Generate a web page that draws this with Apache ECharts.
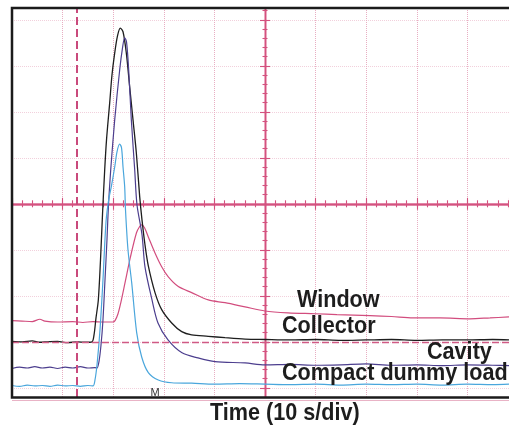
<!DOCTYPE html>
<html><head><meta charset="utf-8">
<script src="https://cdn.jsdelivr.net/npm/echarts@6/dist/echarts.min.js"></script>
<style>html,body{margin:0;padding:0;background:#fff}#c{width:509px;height:428px}</style>
</head><body><div id="c"></div>
<script>
// time in seconds (10 s/div, 0 = screen centre), amplitude in divisions (0 = screen centre)
const windowTrace = [[-50,-2.54],[-48,-2.55],[-46,-2.56],[-44.5,-2.51],[-43.5,-2.55],[-41,-2.57],[-38,-2.56],[-36,-2.58],[-34,-2.56],[-32,-2.57],[-30.04,-2.57],[-29.64,-2.54],[-29.05,-2.39],[-28.46,-2.13],[-27.67,-1.72],[-26.58,-1.15],[-25.40,-0.63],[-24.80,-0.50],[-24.41,-0.46],[-23.81,-0.52],[-23.06,-0.72],[-21.74,-1.07],[-20.42,-1.37],[-19.11,-1.59],[-17.13,-1.80],[-14.49,-1.93],[-11.21,-2.09],[-7.91,-2.15],[-3.95,-2.24],[0,-2.33],[4.55,-2.37],[9.88,-2.39],[14.23,-2.41],[20.75,-2.43],[25,-2.45],[29.25,-2.48],[34.58,-2.48],[40.51,-2.50],[44.47,-2.48],[48.22,-2.46]];
const collectorTrace = [[-50,-2.99],[-48,-3.0],[-46,-2.98],[-44.5,-3.01],[-43,-3.0],[-41,-2.99],[-39,-3.02],[-37,-3.0],[-35.5,-3.01],[-34.19,-3.0],[-33.79,-2.85],[-33.40,-2.48],[-32.94,-2.09],[-32.51,-1.22],[-32.11,-0.22],[-31.68,0.74],[-31.32,1.39],[-30.69,2.20],[-30.24,2.80],[-29.70,3.28],[-29.15,3.65],[-28.60,3.82],[-28.06,3.74],[-27.41,3.28],[-26.74,2.54],[-26.09,1.83],[-25.43,1.11],[-24.76,0.15],[-24.31,-0.35],[-23.72,-0.89],[-23.06,-1.35],[-21.74,-1.93],[-20.42,-2.30],[-18.44,-2.59],[-16.46,-2.78],[-14.49,-2.85],[-11.21,-2.88],[-7.91,-2.91],[-3.95,-2.94],[0,-2.95],[5,-2.96],[10,-2.95],[15,-2.97],[20,-2.96],[25,-2.95],[30,-2.97],[35,-2.96],[40,-2.96],[45,-2.95],[48.22,-2.96]];
const cavityTrace = [[-50,-3.58],[-48.5,-3.55],[-47,-3.57],[-45.5,-3.54],[-44,-3.57],[-42.5,-3.55],[-41,-3.58],[-39.5,-3.55],[-38,-3.57],[-36.5,-3.54],[-35,-3.57],[-33.6,-3.56],[-33.20,-3.57],[-32.81,-3.43],[-32.41,-3.07],[-32.02,-2.52],[-31.62,-1.65],[-31.23,-0.78],[-30.93,-0.02],[-30.49,0.74],[-29.70,1.83],[-28.72,2.91],[-28.16,3.39],[-27.73,3.61],[-27.37,3.52],[-26.94,2.91],[-26.42,1.83],[-25.75,0.74],[-25.30,-0.02],[-24.31,-0.67],[-23.72,-1.37],[-22.33,-2.09],[-21.15,-2.59],[-19.17,-2.96],[-16.40,-3.24],[-13.24,-3.35],[-9.88,-3.43],[-3.95,-3.46],[0,-3.50],[5,-3.49],[10,-3.51],[15,-3.50],[20,-3.48],[25,-3.51],[30,-3.50],[35,-3.52],[40,-3.50],[45,-3.51],[48.22,-3.52]];
const dummyLoadTrace = [[-50,-3.95],[-48.5,-3.97],[-47,-3.94],[-45.5,-3.96],[-44,-3.95],[-42.5,-3.97],[-41,-3.94],[-39.5,-3.96],[-38,-3.95],[-36.5,-3.97],[-35,-3.95],[-33.99,-3.96],[-33.60,-3.83],[-33.20,-3.50],[-32.61,-2.74],[-32.02,-1.65],[-31.42,-0.39],[-30.89,0.09],[-30.38,0.37],[-29.70,0.80],[-29.25,1.13],[-28.72,1.30],[-28.36,1.22],[-28.06,0.80],[-27.73,0.37],[-27.57,-0.13],[-27.08,-1.0],[-26.34,-1.72],[-25.36,-2.80],[-24.37,-3.33],[-23.06,-3.67],[-21.09,-3.83],[-18.44,-3.89],[-14.49,-3.90],[-10,-3.92],[-5,-3.91],[0,-3.92],[5,-3.93],[10,-3.92],[15,-3.94],[20,-3.92],[25,-3.93],[30,-3.92],[35,-3.94],[40,-3.92],[45,-3.93],[48.22,-3.92]];
const seriesNames = ['Window', 'Collector', 'Cavity', 'Compact dummy load'];
const xAxisTitle = 'Time (10 s/div)';
const triggerTime = -37.2;
const groundLevel = -3;
const markerTime = -21.7;
const markerText = 'M';

const PINK = '#d4527f';
const GRIDPINK_V = '#e8aec2';
const GRIDPINK_H = '#f2d0dc';
const FONT = 'bold 24px "Liberation Sans", Arial, sans-serif';
const X_MIN = -50, X_MAX = 48.22, Y_MIN = -4.2, Y_MAX = 4.2565;

function xAx(inside, major) {
  const a = {type:'value', min:X_MIN, max:X_MAX, position:'bottom',
    axisLine:{show:true, onZero:true, onZeroAxisIndex:0, lineStyle:{color:PINK, width:1.3}},
    axisTick:{show:true, inside:inside, length: major ? 6 : 3.5, lineStyle:{color:PINK, width:1.1}},
    axisLabel:{show:false},
    splitLine:{show: major && !inside, showMinLine:false, showMaxLine:false, lineStyle:{color:GRIDPINK_V, type:'dotted', width:1}}};
  a.interval = major ? 10 : 2;
  return a;
}
function yAx(inside, major) {
  const a = {type:'value', min:Y_MIN, max:Y_MAX, position:'left',
    axisLine:{show:true, onZero:true, onZeroAxisIndex:0, lineStyle:{color:PINK, width:1.3}},
    axisTick:{show:true, inside:inside, length: major ? 5 : 2.5, lineStyle:{color:PINK, width:1.1}},
    axisLabel:{show:false},
    splitLine:{show: major && !inside, showMinLine:false, showMaxLine:false, lineStyle:{color:GRIDPINK_H, type:'dotted', width:1}}};
  if (major) a.splitNumber = 8; else a.interval = 0.2;
  return a;
}
function line(name, data, color, width) {
  return {name:name, type:'line', data:data, showSymbol:false, symbol:'none', smooth:0.3,
    lineStyle:{color:color, width:width}, itemStyle:{color:color}, xAxisIndex:0, yAxisIndex:0, z:3};
}
const labelPos = [[297,300],[282,326],[427,352],[282,373]];
const graphics = seriesNames.map((t,i) => ({type:'text', x:labelPos[i][0], y:labelPos[i][1], scaleX:0.9, z:10,
  style:{text:t, font:FONT, fill:'#1d1d1d', textAlign:'left', textVerticalAlign:'middle', align:'left', verticalAlign:'middle'}}));
graphics.push({type:'text', x:210, y:413, scaleX:0.9, z:10,
  style:{text:xAxisTitle, font:FONT, fill:'#1d1d1d', textAlign:'left', textVerticalAlign:'middle', align:'left', verticalAlign:'middle'}});
// oscilloscope screen frame (open on the right where the photo is cut)
graphics.push({type:'polyline', z:9, shape:{points:[[509,8],[12,8],[12,397.5],[509,397.5]]},
  style:{stroke:'#1b1b1b', lineWidth:2.5, fill:null}});
graphics.push({type:'line', z:8, shape:{x1:12, y1:400.5, x2:509, y2:400.5},
  style:{stroke:'#e9b3c6', lineWidth:1}});

const s0 = line(seriesNames[0], windowTrace, '#d24d7e', 1.2);
s0.markLine = {silent:true, symbol:['none','none'], label:{show:false}, animation:false,
  data:[{xAxis:triggerTime, lineStyle:{color:'#c94a7c', width:2, type:[8,4]}},
        {yAxis:groundLevel, lineStyle:{color:'#d05a85', width:1.3, type:[7,3]}}]};
const s3 = line(seriesNames[3], dummyLoadTrace, '#4aa6dc', 1.2);
s3.markPoint = {silent:true, symbol:'rect', symbolSize:0.01, animation:false,
  data:[{coord:[markerTime,-4.12], value:markerText}],
  label:{show:true, position:'inside', formatter:markerText, color:'#333', fontSize:11, fontFamily:'Liberation Sans'}};

const chart = echarts.init(document.getElementById('c'), null, {renderer:'canvas'});
chart.setOption({
  animation:false,
  backgroundColor:'#fff',
  grid:{left:12, top:8, right:0, height:389, show:false},
  xAxis:[xAx(false,true), xAx(true,true), xAx(false,false), xAx(true,false)],
  yAxis:[yAx(false,true), yAx(true,true), yAx(false,false), yAx(true,false)],
  series:[s0, line(seriesNames[1], collectorTrace, '#1e1e1e', 1.3), line(seriesNames[2], cavityTrace, '#4c3e8e', 1.2), s3],
  graphic:graphics
});
</script></body></html>
